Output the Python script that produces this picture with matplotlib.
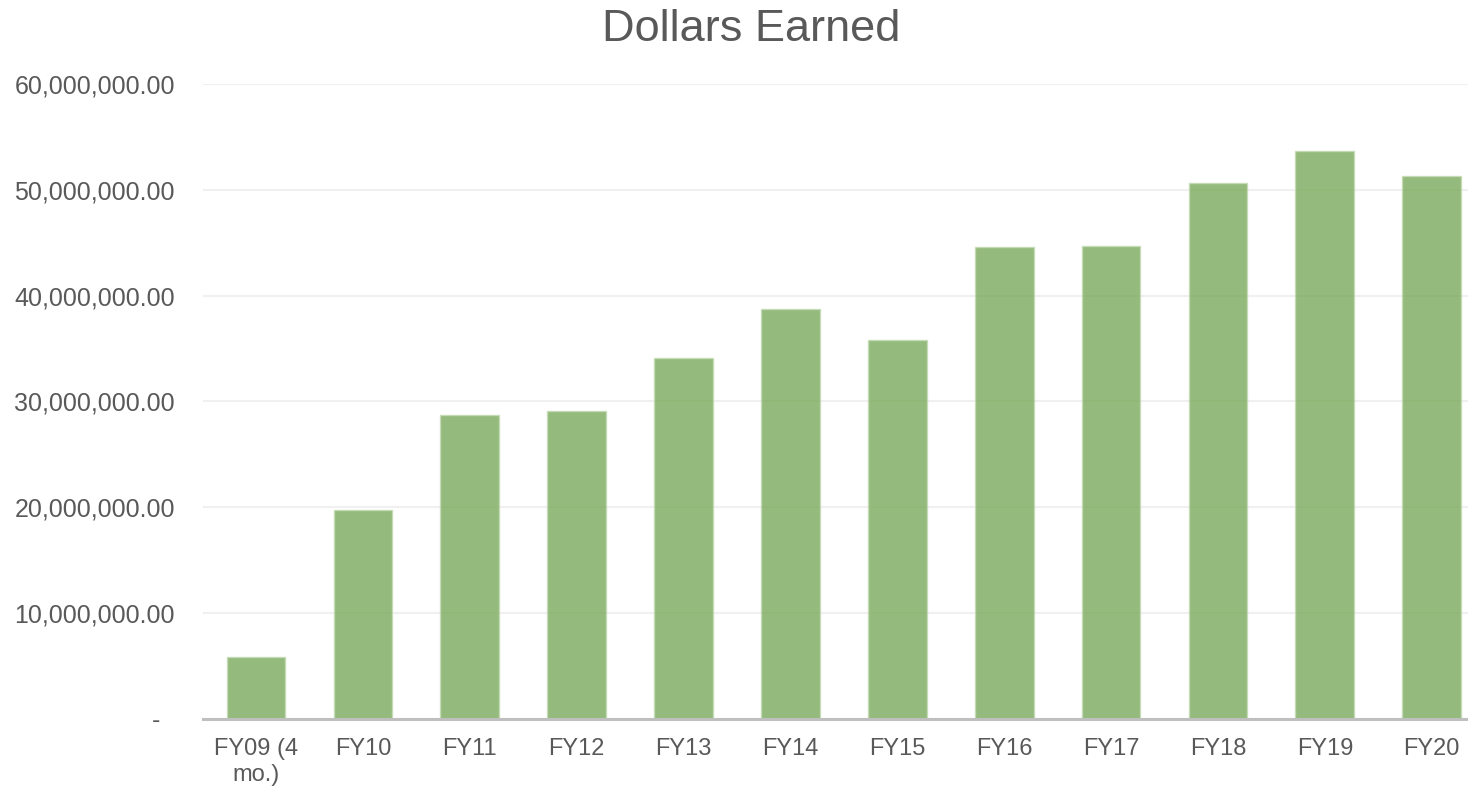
import matplotlib
matplotlib.use("Agg")
import matplotlib.pyplot as plt
from matplotlib.ticker import FuncFormatter

# values
years = ["FY09 (4\nmo.)", "FY10", "FY11", "FY12", "FY13", "FY14",
         "FY15", "FY16", "FY17", "FY18", "FY19", "FY20"]
earned = [5.9e6, 19.7e6, 28.7e6, 29.1e6, 34.1e6, 38.75e6,
          35.8e6, 44.6e6, 44.7e6, 50.6e6, 53.7e6, 51.3e6]
yticks = [0, 10e6, 20e6, 30e6, 40e6, 50e6, 60e6]

plt.rcParams['font.family'] = ['Liberation Sans', 'DejaVu Sans']
txt = '#595959'

fig = plt.figure(figsize=(14.68, 7.88), dpi=100)
ax = fig.add_axes([0.138, 0.0876, 0.8737, 0.8058])

x = range(len(years))
ax.bar(x, earned, width=0.55, color='#7aa95c', alpha=0.8,
       edgecolor='#c4dbb3', linewidth=1, zorder=3)

def fmt(v, pos):
    if v == 0:
        return "-  "
    return f"{v:,.2f}"

ax.set_ylim(0, 60e6)
ax.set_xlim(-0.5, len(years) - 0.5)
ax.set_yticks(yticks)
ax.yaxis.set_major_formatter(FuncFormatter(fmt))
ax.set_xticks(list(x))
ax.set_xticklabels(years, multialignment='center')

ax.grid(axis='y', color='#f0f0f0', linewidth=1.5, zorder=0)
ax.set_axisbelow(True)
for s in ['top', 'right', 'left']:
    ax.spines[s].set_visible(False)
ax.spines['bottom'].set_color('#bfbfbf')
ax.spines['bottom'].set_linewidth(2.2)
ax.spines['bottom'].set_zorder(4)

ax.tick_params(axis='y', length=0, labelsize=18, labelcolor=txt, pad=20)
ax.tick_params(axis='x', length=0, labelsize=17, labelcolor=txt, pad=14)

fig.text(0.512, 0.962, "Dollars Earned", ha='center', va='center',
         fontsize=32.5, color=txt)

fig.savefig("out.png", dpi=100)
